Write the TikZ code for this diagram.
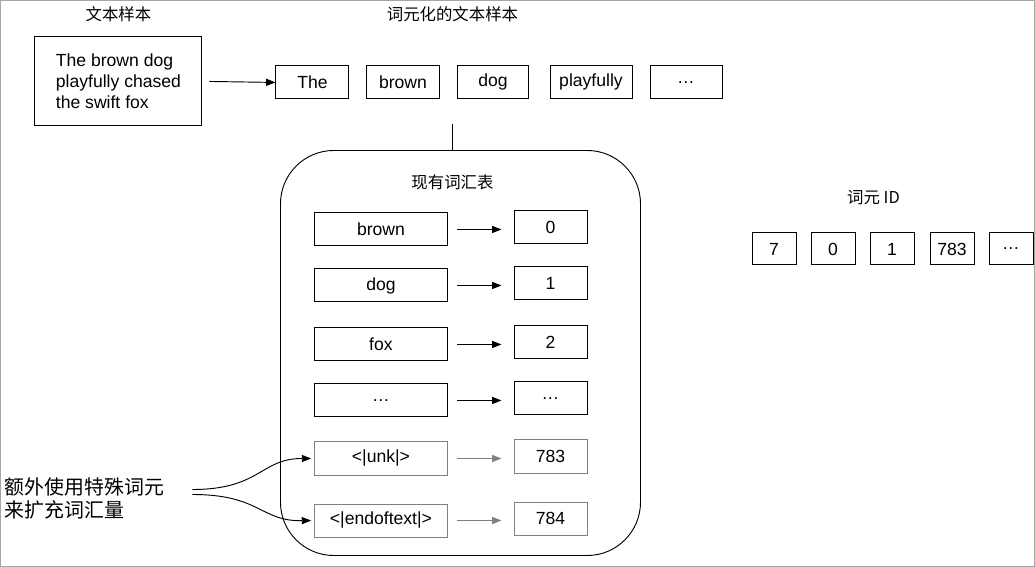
\documentclass[tikz,border=0pt]{standalone}
\usepackage{fontspec}
\setmainfont{Liberation Sans}
\newfontfamily\cjk{Noto Sans CJK SC}
\usetikzlibrary{arrows.meta}
\begin{document}
\begin{tikzpicture}[x=0.03cm,y=-0.03cm,
  every node/.style={font=\fontsize{15}{18}\selectfont},
  tok/.style={draw,thick,minimum height=0.99cm,inner sep=0pt,anchor=north west},
  gtok/.style={tok,draw=gray},
  ttl/.style={font=\cjk\fontsize{14}{17}\selectfont},
  arr/.style={-{Triangle[length=8pt,width=6pt]},thick},
  garr/.style={arr,gray}]
\draw[gray!70,thick] (0,0) rectangle (1034,566);
\node[ttl] (t1) at (118,14) {文本样本};
\node[ttl] (t2) at (452,14) {词元化的文本样本};
\node[tok,minimum width=5.01cm,minimum height=2.67cm,align=left] (src) at (34,36) {The brown dog\\playfully chased\\the swift fox};
\node[tok,minimum width=2.19cm] (a1) at (275,65) {The};
\node[tok,minimum width=2.16cm] (a2) at (366,65) {brown};
\node[tok,minimum width=2.1cm] (a3) at (457,65) {dog};
\node[tok,minimum width=2.46cm] (a4) at (549,65) {playfully};
\node[tok,minimum width=2.16cm] (a5) at (649,65) {\ldots};
\draw[arr] (src.east) ++(7,0) coordinate (s0) -- (a1.west);
\draw[thick,rounded corners=1.6cm] (280,150) rectangle (640,555);
\coordinate (vt) at (452,150);
\coordinate (vb) at (452,124);
\draw[thick] (vb) -- (vt);
\node[ttl] (vtitle) at (452,182) {现有词汇表};
\foreach \n/\y/\l/\r/\s in {b1/212/brown/0/tok,b2/268/dog/1/tok,b3/327/fox/2/tok,b4/383/\ldots/\ldots/tok,b5/441/{<|unk|>}/783/gtok,b6/503/{<|endoftext|>}/784/gtok}{
  \node[\s,minimum width=3.96cm] (\n l) at (314,\y) {\l};
  \node[\s,minimum width=2.19cm] (\n r) at (513,\y-2) {\r};
}
\foreach \n in {b1,b2,b3,b4}{\draw[arr] ([xshift=0.3cm]\n l.east) -- ([xshift=-0.36cm]\n r.west|-\n l.east);}
\foreach \n in {b5,b6}{\draw[garr] ([xshift=0.3cm]\n l.east) -- ([xshift=-0.36cm]\n r.west|-\n l.east);}
\node[ttl] (idt) at (873,197) {词元 ID};
\foreach \n/\x/\t in {i1/751/7,i2/810/0,i3/869/1,i4/929/783,i5/988/\ldots}{
  \node[tok,minimum width=1.32cm,minimum height=0.96cm] (\n) at (\x,232) {\t};}
\node[font=\cjk\fontsize{17}{20}\selectfont,align=left,anchor=west] (note) at (0,498) {额外使用特殊词元\\来扩充词汇量};
\coordinate (n1) at (192,489);
\coordinate (n2) at (192,494);
\draw[arr] (n1) .. controls (260,489) and (260,458) .. ([xshift=-0.1cm]b5l.west);
\draw[arr] (n2) .. controls (260,494) and (260,521) .. ([xshift=-0.1cm]b6l.west);
\end{tikzpicture}
\end{document}
